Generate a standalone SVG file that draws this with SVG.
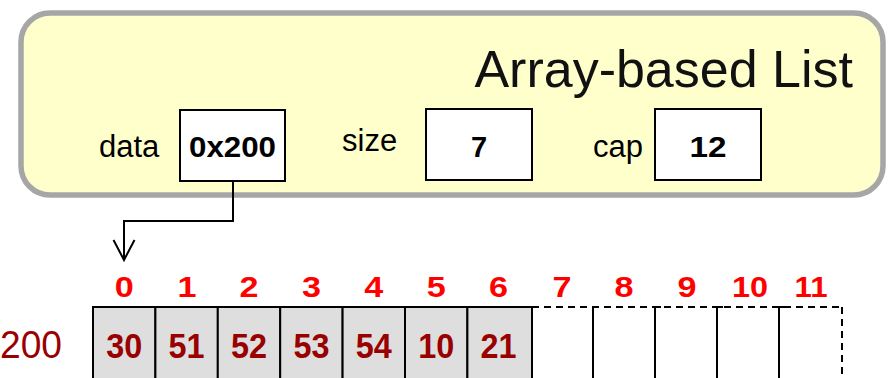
<svg xmlns="http://www.w3.org/2000/svg" width="890" height="378" viewBox="0 0 890 378">
<style>
text{font-family:"Liberation Sans",Arial,sans-serif}
.lbl{font-size:31px;fill:#000}
.val{font-size:29px;font-weight:bold;fill:#000;text-anchor:middle}
.box{fill:#fff;stroke:#000;stroke-width:2}
.idx{font-size:30px;font-weight:bold;fill:#ff0000;text-anchor:middle}
.num{font-size:35px;font-weight:bold;fill:#990000;text-anchor:middle}
.cell{fill:#dedede;stroke:#000;stroke-width:2}
.sol{stroke:#000;stroke-width:2;fill:none}
.dash{stroke:#000;stroke-width:2;fill:none;stroke-dasharray:7 5}
</style>
<g id="list">
<rect x="21" y="13" width="862" height="182" rx="29" ry="29" fill="#ffffcc" stroke="#a6a6a6" stroke-width="5.5"/>
<text x="853" y="87" font-size="52" fill="#111" text-anchor="end">Array-based List</text>
</g>
<g id="data">
<text class="lbl" x="99" y="157">data</text>
<rect class="box" x="180" y="110" width="105" height="71"/>
<text class="val" x="232.5" y="157" textLength="87" lengthAdjust="spacingAndGlyphs">0x200</text>
</g>
<g id="size">
<text class="lbl" x="342" y="151">size</text>
<rect class="box" x="426" y="109" width="106" height="71"/>
<text class="val" x="479" y="157" font-size="31">7</text>
</g>
<g id="cap">
<text class="lbl" x="593" y="157">cap</text>
<rect class="box" x="655" y="109" width="106" height="71"/>
<text class="val" x="708" y="157" font-size="31" textLength="37" lengthAdjust="spacingAndGlyphs">12</text>
</g>
<g id="connectors">
<path d="M233,181 V221 H124 V259" fill="none" stroke="#000" stroke-width="2"/>
<path d="M113.5,240 L124,260 L134.5,240" fill="none" stroke="#000" stroke-width="2"/>
</g>
<g id="array">
<text x="62" y="358" font-size="39" fill="#990000" text-anchor="end" textLength="62" lengthAdjust="spacingAndGlyphs">200</text>
<rect class="cell" x="93" y="307" width="62.4" height="80"/>
<rect class="cell" x="155.4" y="307" width="62.4" height="80"/>
<rect class="cell" x="217.8" y="307" width="62.4" height="80"/>
<rect class="cell" x="280.2" y="307" width="62.4" height="80"/>
<rect class="cell" x="342.6" y="307" width="62.4" height="80"/>
<rect class="cell" x="405" y="307" width="62.4" height="80"/>
<rect class="cell" x="467.4" y="307" width="64.6" height="80"/>
<path class="dash" d="M532,307 H842"/>
<path class="dash" d="M842,307 V378"/>
<path class="sol" d="M593,378 V307 H599 M655,378 V307 H661 M717,378 V307 H723 M779,378 V307 H785"/>
<text class="num" x="124.2" y="358" textLength="36" lengthAdjust="spacingAndGlyphs">30</text>
<text class="num" x="186.6" y="358" textLength="36" lengthAdjust="spacingAndGlyphs">51</text>
<text class="num" x="249" y="358" textLength="36" lengthAdjust="spacingAndGlyphs">52</text>
<text class="num" x="311.4" y="358" textLength="36" lengthAdjust="spacingAndGlyphs">53</text>
<text class="num" x="373.8" y="358" textLength="36" lengthAdjust="spacingAndGlyphs">54</text>
<text class="num" x="436.2" y="358" textLength="36" lengthAdjust="spacingAndGlyphs">10</text>
<text class="num" x="498.6" y="358" textLength="36" lengthAdjust="spacingAndGlyphs">21</text>
<text class="idx" x="124.2" y="297" textLength="19" lengthAdjust="spacingAndGlyphs">0</text>
<text class="idx" x="187" y="297" textLength="19" lengthAdjust="spacingAndGlyphs">1</text>
<text class="idx" x="249" y="297" textLength="19" lengthAdjust="spacingAndGlyphs">2</text>
<text class="idx" x="311.4" y="297" textLength="19" lengthAdjust="spacingAndGlyphs">3</text>
<text class="idx" x="373.8" y="297" textLength="19" lengthAdjust="spacingAndGlyphs">4</text>
<text class="idx" x="436.2" y="297" textLength="19" lengthAdjust="spacingAndGlyphs">5</text>
<text class="idx" x="498.6" y="297" textLength="19" lengthAdjust="spacingAndGlyphs">6</text>
<text class="idx" x="562" y="297" textLength="19" lengthAdjust="spacingAndGlyphs">7</text>
<text class="idx" x="624" y="297" textLength="19" lengthAdjust="spacingAndGlyphs">8</text>
<text class="idx" x="687" y="297" textLength="19" lengthAdjust="spacingAndGlyphs">9</text>
<text class="idx" x="750" y="297" textLength="36" lengthAdjust="spacingAndGlyphs">10</text>
<text class="idx" x="811" y="297" textLength="33" lengthAdjust="spacingAndGlyphs">11</text>
</g>
</svg>
